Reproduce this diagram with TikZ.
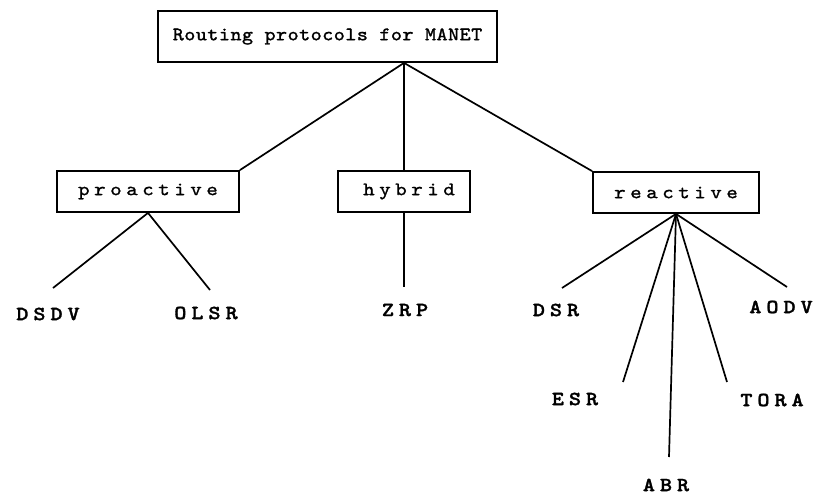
\documentclass[tikz,border=0pt]{standalone}
\usepackage{fontspec}
\usetikzlibrary{calc}
\newfontfamily\rootfont{lmmono10-regular.otf}[LetterSpace=3, FakeStretch=1.1, FakeBold=1.5]
\newfontfamily\catfont{lmmono10-regular.otf}[LetterSpace=24, FakeStretch=1.15, FakeBold=1.2]
\newfontfamily\leaffont{lmmonolt10-bold.otf}[LetterSpace=25, FakeStretch=1.15, FakeBold=1.5]
\begin{document}
\begin{tikzpicture}[x=1pt,y=-1pt,
  box/.style={draw, line width=1.8pt, inner sep=0pt},
  catbox/.style={box, font=\catfont\fontsize{19}{19}\selectfont},
  link/.style={line width=1.7pt},
  leaf/.style={inner sep=0pt, font=\leaffont\fontsize{20}{20}\selectfont}]
\fill[white] (0,0) rectangle (813,495);
\useasboundingbox (0,0) rectangle (813,495);
% boxes
\node[box, minimum width=339pt, minimum height=51pt,
      font=\rootfont\fontsize{19}{19}\selectfont] (root) at (327.5,36.5) {Routing protocols for MANET};
\node[catbox, minimum width=182pt, minimum height=41pt] (pro) at (148,191.5) {proactive};
\node[catbox, minimum width=132pt, minimum height=41pt] (hyb) at (404,191.5) {\hspace*{10pt}hybrid};
\node[catbox, minimum width=166pt, minimum height=41pt] (rea) at (676,192.5) {reactive};
% junction and free ends
\coordinate (rj) at (root.south -| hyb.north);
\coordinate (eDSDV) at (53,288);
\coordinate (eOLSR) at (210,290);
\coordinate (eZRP) at (404,287);
\coordinate (eDSR) at (562,288);
\coordinate (eAODV) at (787,287);
\coordinate (eESR) at (623,382);
\coordinate (eABR) at (669,457);
\coordinate (eTORA) at (727,382);
% leaf labels
\node[leaf] (dsdv) at (48,314) {DSDV};
\node[leaf] (olsr) at (206,313) {OLSR};
\node[leaf] (zrp) at (405,310) {ZRP};
\node[leaf] (dsr) at (556,310) {DSR};
\node[leaf] (aodv) at (781,307) {AODV};
\node[leaf] (esr) at (575,399) {ESR};
\node[leaf] (tora) at (772,400) {TORA};
\node[leaf] (abr) at (666,485) {ABR};
% connectors
\draw[link] (rj) -- (pro.north east);
\draw[link] (rj) -- (hyb.north);
\draw[link] (rj) -- (rea.north west);
\draw[link] (pro.south) -- (eDSDV);
\draw[link] (pro.south) -- (eOLSR);
\draw[link] (hyb.south) -- (eZRP);
\draw[link] (rea.south) -- (eDSR);
\draw[link] (rea.south) -- (eAODV);
\draw[link] (rea.south) -- (eESR);
\draw[link] (rea.south) -- (eABR);
\draw[link] (rea.south) -- (eTORA);
\end{tikzpicture}
\end{document}
